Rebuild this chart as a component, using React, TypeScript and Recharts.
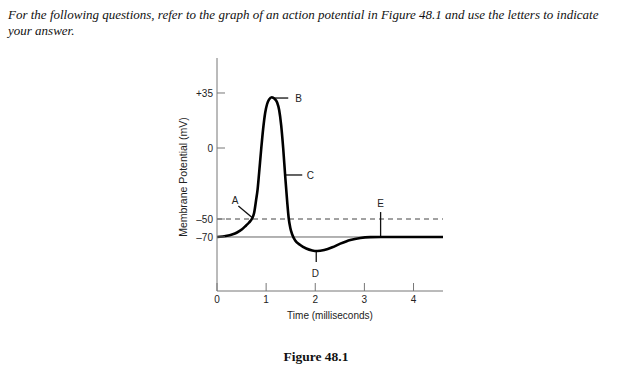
import {
  LineChart,
  Line,
  XAxis,
  YAxis,
  ReferenceLine,
  ReferenceDot,
  Label,
} from 'recharts';

// Time (ms) and membrane potential (mV)
const TIME = [
  0, 0.204, 0.306, 0.408, 0.51, 0.592, 0.653, 0.714, 0.755, 0.796, 0.827, 0.857, 0.898, 0.939, 0.98, 1.02, 1.061, 1.116,
  1.173, 1.224, 1.265, 1.306, 1.347, 1.388, 1.429, 1.459, 1.49, 1.531, 1.592, 1.694, 1.816, 1.939, 2.041,
  2.184, 2.347, 2.51, 2.714, 2.918, 3.122, 3.327, 4.6,
];
const POTENTIAL = [
  -70, -68.7, -67.2, -65, -61.4, -57.2, -53.9, -49.6, -45.8, -36.6, -28.9, -17.6, -1.4, 12.1, 22.3, 28, 30.9, 32.3,
  31.3, 29, 24.2, 14.6, 0, -19.7, -38, -49.3, -59.4, -67.2, -73.9, -78.9, -82.8, -85, -85.6,
  -84.4, -81.4, -77.4, -73.3, -71.1, -70.2, -70, -70,
];

const X_TICKS = [0, 1, 2, 3, 4];
const Y_TICKS = [-70, -50, 0, 35];
const Y_TICK_LABELS = ['\u201370', '\u201350', '0', '+35'];

const THRESHOLD = -50;
const RESTING = -70;

// letter markers: [label, t, mV]
const LETTERS: [string, number, number][] = [
  ['A', 0.37, -37],
  ['B', 1.66, 31.8],
  ['C', 1.9, -19],
  ['D', 2.0, -110],
  ['E', 3.33, -38.7],
];
// pointer segments: [t1, mV1, t2, mV2]
const POINTERS: [number, number, number, number][] = [
  [0.435, -40.8, 0.708, -48.8],
  [1.12, 31.8, 1.45, 31.8],
  [1.39, -19, 1.735, -19],
  [2.02, -85.6, 2.02, -97.8],
  [3.33, -45.1, 3.33, -70],
];

// the figure's voltage axis is schematic (not linear), so a piecewise scale
const Y_KNOTS = [-130, -70, -50, 0, 35, 57];
const Y_FRACS = [0, 0.2318, 0.309, 0.6137, 0.8498, 1];

function piecewiseScale(dom: number[] = [-130, 57], rng: number[] = [0, 1]): any {
  const frac = (v: number) => {
    for (let i = 0; i < Y_KNOTS.length - 1; i++) {
      if (v <= Y_KNOTS[i + 1] || i === Y_KNOTS.length - 2) {
        const t = (v - Y_KNOTS[i]) / (Y_KNOTS[i + 1] - Y_KNOTS[i]);
        return Y_FRACS[i] + t * (Y_FRACS[i + 1] - Y_FRACS[i]);
      }
    }
    return 0;
  };
  const scale: any = (v: number) => rng[0] + frac(v) * (rng[1] - rng[0]);
  scale.domain = (d?: number[]) => {
    if (d) {
      dom = d;
      return scale;
    }
    return dom;
  };
  scale.range = (r?: number[]) => {
    if (r) {
      rng = r;
      return scale;
    }
    return rng;
  };
  scale.copy = () => piecewiseScale([...dom], [...rng]);
  scale.ticks = () => Y_TICKS;
  scale.invert = (px: number) => {
    const f = (px - rng[0]) / (rng[1] - rng[0]);
    for (let i = 0; i < Y_FRACS.length - 1; i++) {
      if (f <= Y_FRACS[i + 1] || i === Y_FRACS.length - 2) {
        const t = (f - Y_FRACS[i]) / (Y_FRACS[i + 1] - Y_FRACS[i]);
        return Y_KNOTS[i] + t * (Y_KNOTS[i + 1] - Y_KNOTS[i]);
      }
    }
    return 0;
  };
  return scale;
}

const data = TIME.map((t, i) => ({ t, mv: POTENTIAL[i] }));

const sans = '"Liberation Sans", Arial, sans-serif';
const serif = '"Liberation Serif", "Times New Roman", serif';

export default function App() {
  return (
    <div style={{ position: 'absolute', left: 0, top: 0, width: 619, height: 374, background: '#fff', overflow: 'hidden' }}>
      <div
        style={{
          position: 'absolute',
          left: 8,
          top: 7,
          width: 605,
          fontFamily: serif,
          fontStyle: 'italic',
          fontSize: 13,
          lineHeight: '16px',
          color: '#111',
        }}
      >
        For the following questions, refer to the graph of an action potential in Figure 48.1 and use the letters to indicate your answer.
      </div>

      <div style={{ position: 'absolute', left: 0, top: 0 }}>
        <LineChart
          width={619}
          height={374}
          data={data}
          margin={{ top: 58, right: 176, bottom: 53, left: 177 }}
        >
          <XAxis
            dataKey="t"
            type="number"
            domain={[0, 4.6]}
            ticks={X_TICKS}
            allowDataOverflow
            height={30}
            tickSize={-8}
            tickMargin={13}
            stroke="#777"
            tick={{ fill: '#222', fontSize: 10, fontFamily: sans }}
          >
            <Label
              value="Time (milliseconds)"
              position="insideBottom"
              offset={2}
              style={{ fill: '#222', fontSize: 10, fontFamily: sans }}
            />
          </XAxis>
          <YAxis
            type="number"
            domain={[-130, 57]}
            scale={piecewiseScale()}
            ticks={Y_TICKS}
            tickFormatter={(v: number) => Y_TICK_LABELS[Y_TICKS.indexOf(v)] ?? String(v)}
            allowDataOverflow
            width={40}
            tickSize={-8}
            tickMargin={12}
            stroke="#777"
            tick={{ fill: '#222', fontSize: 10, fontFamily: sans }}
          />
          <ReferenceLine y={THRESHOLD} stroke="#444" strokeDasharray="5 4" strokeWidth={1} />
          <ReferenceLine y={RESTING} stroke="#666" strokeWidth={1} />
          {POINTERS.map(([x1, y1, x2, y2], i) => (
            <ReferenceLine
              key={`p-${i}`}
              segment={[{ x: x1, y: y1 }, { x: x2, y: y2 }]}
              stroke="#111"
              strokeWidth={1.3}
            />
          ))}
          <Line
            dataKey="mv"
            type="monotone"
            stroke="#000"
            strokeWidth={2.6}
            dot={false}
            isAnimationActive={false}
          />
          {LETTERS.map(([name, x, y]) => (
            <ReferenceDot
              key={name}
              x={x}
              y={y}
              r={0}
              fill="none"
              stroke="none"
              label={{ value: name, position: 'center', fill: '#222', fontSize: 10, fontFamily: sans }}
            />
          ))}
        </LineChart>
      </div>

      <div
        style={{
          position: 'absolute',
          left: 183,
          top: 177,
          transform: 'translate(-50%, -50%) rotate(-90deg)',
          whiteSpace: 'nowrap',
          fontFamily: sans,
          fontSize: 10.5,
          color: '#222',
        }}
      >
        Membrane Potential (mV)
      </div>

      <div
        style={{
          position: 'absolute',
          left: 0,
          width: 632,
          top: 349,
          textAlign: 'center',
          fontFamily: serif,
          fontWeight: 'bold',
          fontSize: 13.5,
          color: '#111',
        }}
      >
        Figure 48.1
      </div>
    </div>
  );
}
